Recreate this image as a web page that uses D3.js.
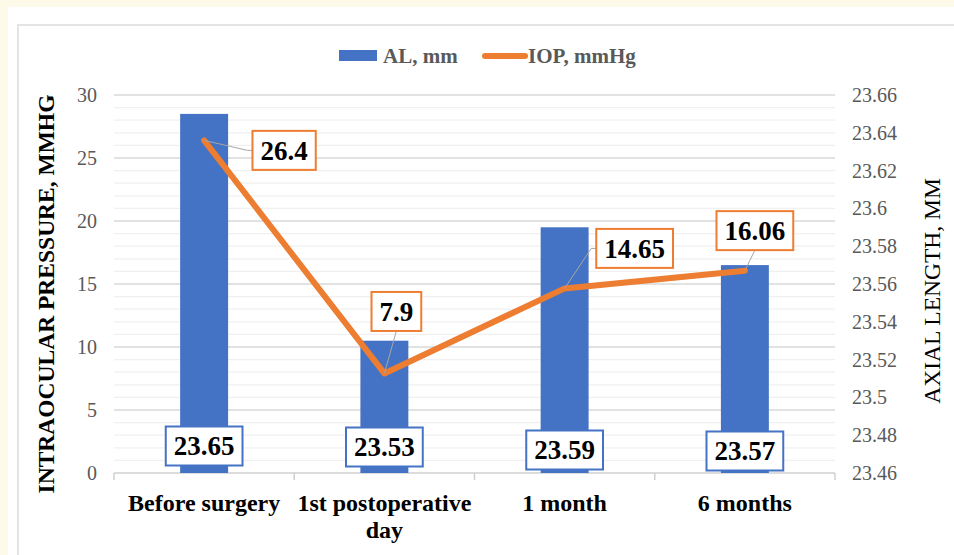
<!DOCTYPE html>
<html>
<head>
<meta charset="utf-8">
<script src="https://cdn.jsdelivr.net/npm/d3@7"></script>
<style>
  html, body { margin: 0; padding: 0; background: #fefaea; }
  svg { display: block; }
  svg text { font-family: "Liberation Serif", "Times New Roman", "DejaVu Serif", serif; }
</style>
</head>
<body>
<div id="chart"></div>
<script>
// data
const categories = ['Before surgery', '1st postoperative day', '1 month', '6 months'];
const alValues = [23.65, 23.53, 23.59, 23.57];   // AL, mm (bars, right axis)
const iopValues = [26.4, 7.9, 14.65, 16.06];     // IOP, mmHg (line, left axis)
const leftTicks = [0, 5, 10, 15, 20, 25, 30];
const rightTicks = [23.46, 23.48, 23.5, 23.52, 23.54, 23.56, 23.58, 23.6, 23.62, 23.64, 23.66];

// label placement (pixel offsets of box centre from the point)
const iopLabelPos = [
  { dx: 80, dy: 10, anchor: 'left' },
  { dx: 12, dy: -62, anchor: 'bottom' },
  { dx: 70, dy: -40, anchor: 'left' },
  { dx: 10, dy: -40, anchor: 'bottom' }
];
const alLabelDy = [-27, -26, -23, -22];

const width = 954, height = 555;

const svg = d3.select('#chart').append('svg')
  .attr('width', width)
  .attr('height', height);

// panel
svg.append('rect').attr('x', 8).attr('y', 7).attr('width', width).attr('height', height).attr('fill', '#fff');
svg.append('rect').attr('x', 18).attr('y', 25).attr('width', width).attr('height', height)
  .attr('fill', 'none').attr('stroke', '#e4e4e4').attr('stroke-width', 2);

const x = d3.scaleBand().domain(categories).range([114, 835]).paddingInner(0).paddingOuter(0);
const yL = d3.scaleLinear().domain([0, 30]).range([473, 95]);
const yR = d3.scaleLinear().domain([23.46, 23.66]).range([473, 95]);

// gridlines: minor every 1, major every 5
const g = svg.append('g');
g.selectAll('line.minor').data(d3.range(1, 30).filter(v => v % 5 !== 0)).enter().append('line')
  .attr('x1', 114).attr('x2', 835)
  .attr('y1', d => yL(d)).attr('y2', d => yL(d))
  .attr('stroke', '#f0f0f0').attr('stroke-width', 1.3);
g.selectAll('line.major').data(leftTicks.filter(v => v > 0)).enter().append('line')
  .attr('x1', 114).attr('x2', 835)
  .attr('y1', d => yL(d)).attr('y2', d => yL(d))
  .attr('stroke', '#d9d9d9').attr('stroke-width', 1.3);

// x axis line and ticks
g.append('line').attr('x1', 114).attr('x2', 835).attr('y1', yL(0)).attr('y2', yL(0))
  .attr('stroke', '#d0d0d0').attr('stroke-width', 1.5);
const bounds = categories.map(c => x(c)).concat([x.range()[1]]);
g.selectAll('line.xt').data(bounds).enter().append('line')
  .attr('x1', d => d).attr('x2', d => d).attr('y1', yL(0)).attr('y2', yL(0) + 7)
  .attr('stroke', '#d0d0d0').attr('stroke-width', 1.5);

// left tick labels
svg.append('g').selectAll('text').data(leftTicks).enter().append('text')
  .attr('x', 97).attr('y', d => yL(d)).attr('dy', '0.35em')
  .attr('text-anchor', 'end')
  .attr('font-size', 20).attr('fill', '#595959')
  .text(d => d);

// right tick labels
svg.append('g').selectAll('text').data(rightTicks).enter().append('text')
  .attr('x', 852).attr('y', d => yR(d)).attr('dy', '0.35em')
  .attr('font-size', 20).attr('fill', '#595959')
  .text(d => d3.format('.2~f')(d));

// axis titles
svg.append('text')
  .attr('transform', `translate(54, ${(95 + 473) / 2 + 10}) rotate(-90)`)
  .attr('text-anchor', 'middle')
  .attr('font-size', 23.5).attr('font-weight', 'bold').attr('fill', '#000')
  .text('INTRAOCULAR PRESSURE, MMHG');
svg.append('text')
  .attr('transform', `translate(940, ${(95 + 473) / 2 + 7}) rotate(-90)`)
  .attr('text-anchor', 'middle')
  .attr('font-size', 23.5).attr('fill', '#000')
  .text('AXIAL LENGTH, MM');

// bars
const bw = x.bandwidth();
const barW = bw * 0.266;
svg.append('g').selectAll('rect').data(alValues).enter().append('rect')
  .attr('x', (d, i) => x(categories[i]) + (bw - barW) / 2)
  .attr('y', d => yR(d))
  .attr('width', barW)
  .attr('height', d => yR.range()[0] - yR(d))
  .attr('fill', '#4472c4');

// category labels
const catLines = [['Before surgery'], ['1st postoperative', 'day'], ['1 month'], ['6 months']];
const cl = svg.append('g').selectAll('text').data(categories).enter().append('text')
  .attr('x', d => x(d) + bw / 2).attr('y', 511)
  .attr('text-anchor', 'middle')
  .attr('font-size', 24).attr('font-weight', 'bold').attr('fill', '#000');
cl.each(function (d, i) {
  d3.select(this).selectAll('tspan').data(catLines[i]).enter().append('tspan')
    .attr('x', x(d) + bw / 2).attr('dy', (t, j) => j === 0 ? 0 : 27)
    .text(t => t);
});

// helper for boxed labels
function boxLabel(parent, cx, cy, txt, color) {
  const grp = parent.append('g');
  const rect = grp.append('rect');
  const t = grp.append('text')
    .attr('x', cx).attr('y', cy).attr('dy', '0.35em')
    .attr('text-anchor', 'middle')
    .attr('font-size', 27).attr('font-weight', 'bold').attr('fill', '#000')
    .text(txt);
  const w = t.node().getComputedTextLength() + 16;
  const h = 39;
  rect.attr('x', cx - w / 2).attr('y', cy - h / 2).attr('width', w).attr('height', h)
    .attr('fill', '#fff').attr('stroke', color).attr('stroke-width', 2);
  return { x: cx - w / 2, y: cy - h / 2, w, h };
}

// AL labels
const alG = svg.append('g');
alValues.forEach((v, i) => {
  boxLabel(alG, x(categories[i]) + bw / 2, yR.range()[0] + alLabelDy[i], d3.format('.2f')(v), '#4472c4');
});

// IOP line
const line = d3.line()
  .x((d, i) => x(categories[i]) + bw / 2)
  .y(d => yL(d));
svg.append('path').datum(iopValues)
  .attr('d', line)
  .attr('fill', 'none').attr('stroke', '#ed7d31').attr('stroke-width', 6)
  .attr('stroke-linejoin', 'round').attr('stroke-linecap', 'round');

// IOP labels with leader lines
const iopG = svg.append('g');
iopValues.forEach((v, i) => {
  const px = x(categories[i]) + bw / 2, py = yL(v);
  const p = iopLabelPos[i];
  const leader = iopG.append('path').attr('fill', 'none').attr('stroke', '#a6a6a6').attr('stroke-width', 1);
  const b = boxLabel(iopG, px + p.dx, py + p.dy, String(v), '#ed7d31');
  let pts;
  if (p.anchor === 'left') {
    pts = [[px, py], [b.x - 5, b.y + b.h / 2], [b.x, b.y + b.h / 2]];
  } else {
    pts = [[px, py], [b.x + b.w / 2, b.y + b.h]];
  }
  leader.attr('d', d3.line()(pts));
});

// legend
const lg = svg.append('g');
lg.append('rect').attr('x', 339).attr('y', 50).attr('width', 38).attr('height', 11).attr('fill', '#4472c4');
lg.append('text').attr('x', 383).attr('y', 63)
  .attr('font-size', 21).attr('font-weight', 'bold').attr('fill', '#595959')
  .text('AL, mm');
lg.append('line').attr('x1', 485).attr('x2', 525).attr('y1', 56).attr('y2', 56)
  .attr('stroke', '#ed7d31').attr('stroke-width', 6).attr('stroke-linecap', 'round');
lg.append('text').attr('x', 528).attr('y', 63)
  .attr('font-size', 21).attr('font-weight', 'bold').attr('fill', '#595959')
  .text('IOP, mmHg');
</script>
</body>
</html>
